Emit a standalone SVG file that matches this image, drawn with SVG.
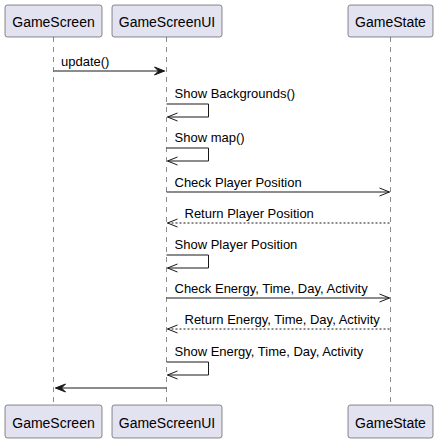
<svg xmlns="http://www.w3.org/2000/svg" width="438" height="442" viewBox="0 0 438 442">
<style>
.box{fill:#E2E2F0;stroke:#181818;stroke-width:0.5}
.pt{font-family:"Liberation Sans",Arial,sans-serif;font-size:14px;fill:#000;text-anchor:middle}
.life{stroke:#181818;stroke-width:0.5;stroke-dasharray:5,5;fill:none}
.msg{stroke:#181818;stroke-width:1;fill:none}
.ret{stroke:#181818;stroke-width:1;fill:none;stroke-dasharray:2,2}
.mt{font-family:"Liberation Sans",Arial,sans-serif;font-size:13px;fill:#000}
.head{fill:#181818;stroke:#181818;stroke-width:1}
</style>
<rect width="438" height="442" fill="#fff"/>
<g id="lifelines">
<line class="life" x1="53.5" y1="37" x2="53.5" y2="405"/>
<line class="life" x1="166.5" y1="37" x2="166.5" y2="405"/>
<line class="life" x1="390.5" y1="37" x2="390.5" y2="405"/>
</g>
<g id="GameScreen">
<rect class="box" x="5" y="5" width="97" height="32" rx="2.5"/>
<text class="pt" x="53.5" y="27">GameScreen</text>
<rect class="box" x="5" y="405" width="97" height="33" rx="2.5"/>
<text class="pt" x="53.5" y="427.5">GameScreen</text>
</g>
<g id="GameScreenUI">
<rect class="box" x="112" y="5" width="110" height="32" rx="2.5"/>
<text class="pt" x="167" y="27">GameScreenUI</text>
<rect class="box" x="112" y="405" width="110" height="33" rx="2.5"/>
<text class="pt" x="167" y="427.5">GameScreenUI</text>
</g>
<g id="GameState">
<rect class="box" x="348" y="5" width="85" height="32" rx="2.5"/>
<text class="pt" x="390.5" y="27">GameState</text>
<rect class="box" x="348" y="405" width="85" height="33" rx="2.5"/>
<text class="pt" x="390.5" y="427.5">GameState</text>
</g>
<g id="connectors">
<!-- update() -->
<line class="msg" x1="53.5" y1="71" x2="164.5" y2="71"/>
<polygon class="head" points="164.5,71 154.5,67 158.5,71 154.5,75"/>
<text class="mt" x="61" y="66">update()</text>
<!-- Show Backgrounds() -->
<polyline class="msg" points="166.5,104 208.5,104 208.5,117 167.5,117"/>
<polyline class="msg" points="177.5,113 167.5,117 177.5,121"/>
<text class="mt" x="174.5" y="98">Show Backgrounds()</text>
<!-- Show map() -->
<polyline class="msg" points="166.5,148 208.5,148 208.5,161 167.5,161"/>
<polyline class="msg" points="177.5,157 167.5,161 177.5,165"/>
<text class="mt" x="174.5" y="142">Show map()</text>
<!-- Check Player Position -->
<line class="msg" x1="166.5" y1="192" x2="389.5" y2="192"/>
<polyline class="msg" points="379.5,188 389.5,192 379.5,196"/>
<text class="mt" x="174.5" y="187">Check Player Position</text>
<!-- Return Player Position -->
<line class="ret" x1="167.5" y1="223" x2="390.5" y2="223"/>
<polyline class="msg" points="177.5,219 167.5,223 177.5,227"/>
<text class="mt" x="184.5" y="218">Return Player Position</text>
<!-- Show Player Position -->
<polyline class="msg" points="166.5,255 208.5,255 208.5,268 167.5,268"/>
<polyline class="msg" points="177.5,264 167.5,268 177.5,272"/>
<text class="mt" x="174.5" y="249">Show Player Position</text>
<!-- Check Energy -->
<line class="msg" x1="166.5" y1="298" x2="389.5" y2="298"/>
<polyline class="msg" points="379.5,294 389.5,298 379.5,302"/>
<text class="mt" x="174.5" y="293">Check Energy, Time, Day, Activity</text>
<!-- Return Energy -->
<line class="ret" x1="167.5" y1="329" x2="390.5" y2="329"/>
<polyline class="msg" points="177.5,325 167.5,329 177.5,333"/>
<text class="mt" x="184.5" y="324">Return Energy, Time, Day, Activity</text>
<!-- Show Energy -->
<polyline class="msg" points="166.5,362 208.5,362 208.5,375 167.5,375"/>
<polyline class="msg" points="177.5,371 167.5,375 177.5,379"/>
<text class="mt" x="174.5" y="356">Show Energy, Time, Day, Activity</text>
<!-- return to GameScreen -->
<line class="msg" x1="55.5" y1="388" x2="166.5" y2="388"/>
<polygon class="head" points="55.5,388 65.5,384 61.5,388 65.5,392"/>
</g>
</svg>
